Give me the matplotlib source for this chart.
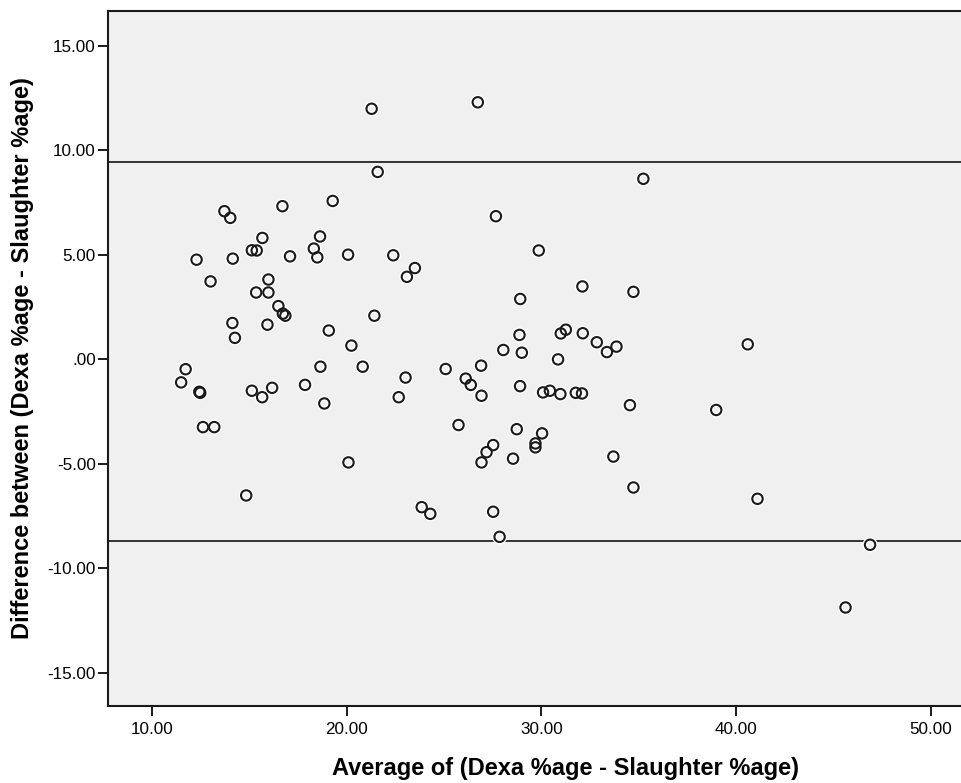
import numpy as np
import matplotlib
matplotlib.use("Agg")
import matplotlib.pyplot as plt

plt.rcParams['font.family'] = ['Liberation Sans', 'DejaVu Sans']

# Average of the two methods (x) and their difference (y)
avg = [21.29, 26.74, 21.60, 35.24, 13.73, 14.03, 16.71, 19.29, 27.67, 15.68,
       18.64, 15.14, 15.39, 18.32, 18.50, 12.30, 14.16, 17.10, 20.08, 22.40,
       29.87, 23.51, 23.10, 13.02, 15.99, 15.36, 15.99, 32.11, 34.73, 28.92,
       16.50, 16.73, 16.86, 21.43, 14.14, 15.94, 19.09, 14.27, 28.88, 31.00,
       31.26, 32.13, 32.85, 33.37, 33.86, 28.05, 29.00, 20.25, 40.60, 30.86,
       11.74, 11.51, 12.44, 12.49, 15.14, 15.67, 16.18, 17.87, 18.66, 18.86,
       20.83, 23.03, 22.68, 25.09, 26.12, 26.38, 26.91, 26.93, 28.91, 30.09,
       30.44, 30.98, 31.77, 32.09, 34.55, 38.98, 12.63, 13.21, 25.75, 28.74,
       30.04, 29.70, 29.70, 27.53, 27.19, 26.93, 28.55, 20.10, 33.70, 14.85,
       34.73, 41.10, 23.86, 24.30, 27.53, 27.86, 46.88, 45.62]
diff = [11.99, 12.30, 8.97, 8.64, 7.09, 6.77, 7.33, 7.58, 6.85, 5.81,
        5.88, 5.22, 5.21, 5.30, 4.88, 4.77, 4.82, 4.93, 5.01, 4.98,
        5.21, 4.37, 3.95, 3.73, 3.82, 3.20, 3.20, 3.49, 3.23, 2.89,
        2.55, 2.19, 2.09, 2.09, 1.74, 1.66, 1.38, 1.03, 1.17, 1.24,
        1.42, 1.25, 0.82, 0.35, 0.61, 0.45, 0.32, 0.66, 0.72, 0.00,
        -0.47, -1.10, -1.55, -1.60, -1.50, -1.81, -1.36, -1.22, -0.35, -2.11,
        -0.35, -0.87, -1.81, -0.46, -0.92, -1.22, -0.30, -1.74, -1.28, -1.58,
        -1.50, -1.66, -1.60, -1.63, -2.19, -2.42, -3.24, -3.24, -3.14, -3.34,
        -3.54, -4.02, -4.21, -4.10, -4.44, -4.93, -4.75, -4.93, -4.65, -6.51,
        -6.13, -6.67, -7.07, -7.39, -7.29, -8.49, -8.87, -11.87]

upper_limit = 9.45
lower_limit = -8.68

xticks = [10, 20, 30, 40, 50]
yticks = [-15, -10, -5, 0, 5, 10, 15]

def fmt(v):
    s = "%.2f" % v
    if s.startswith("0."):
        s = s[1:]
    return s

fig = plt.figure(figsize=(9.62, 7.83), dpi=100)
ax = fig.add_axes([0.1126, 0.0987, 0.8874, 0.8873])
ax.set_facecolor('#F0F0F0')

ax.axhline(upper_limit, color='#333333', lw=1.4, zorder=2)
ax.axhline(lower_limit, color='#333333', lw=1.4, zorder=2)

ax.scatter(avg, diff, s=56, facecolors='none', edgecolors='white', linewidths=3.4, zorder=3)
ax.scatter(avg, diff, s=56, facecolors='none', edgecolors='#1a1a1a', linewidths=1.5, zorder=4)

ax.set_xlim(7.77, 51.6)
ax.set_ylim(-16.57, 16.67)

ax.set_xticks(xticks)
ax.set_xticklabels([fmt(v) for v in xticks])
ax.set_yticks(yticks)
ax.set_yticklabels([fmt(v) for v in yticks])

ax.tick_params(axis='both', direction='out', length=7.5, width=1.4, labelsize=12.3, color='#1a1a1a')
ax.tick_params(axis='y', pad=1.5)
ax.tick_params(axis='x', pad=4)

for side in ['left', 'bottom', 'top']:
    ax.spines[side].set_linewidth(1.5)
    ax.spines[side].set_color('#1a1a1a')
ax.spines['right'].set_visible(False)

ax.set_xlabel('Average of (Dexa %age - Slaughter %age)', fontsize=17, fontweight='bold')
ax.set_ylabel('Difference between (Dexa %age - Slaughter %age)', fontsize=17, fontweight='bold')
ax.xaxis.set_label_coords(0.536, -0.09, transform=ax.transAxes)
ax.yaxis.set_label_coords(-0.101, 0.5, transform=ax.transAxes)
ax.xaxis.label.set_va('center')
ax.yaxis.label.set_va('center')

fig.savefig('out.png', dpi=100)
